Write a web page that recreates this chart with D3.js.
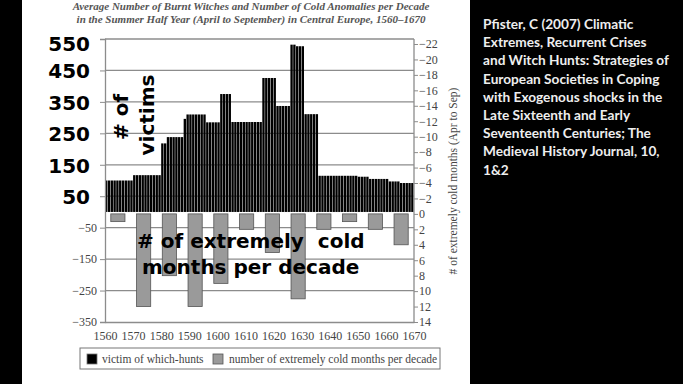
<!DOCTYPE html>
<html>
<head>
<meta charset="utf-8">
<script src="https://cdn.jsdelivr.net/npm/d3@7"></script>
<style>
  html, body { margin: 0; padding: 0; background: #000; }
  svg { display: block; }
</style>
</head>
<body>
<svg id="chart" width="683" height="384"></svg>
<script>
// Victims of witch hunts, one value per year from 1560
const firstYear = 1560;
const victims = [
  100, 100, 100, 100, 100, 100, 100, 100, 100, 100,   // 1560s
  117, 117, 117, 117, 117, 117, 117, 117, 117, 117,   // 1570s
  218, 218, 238, 238, 238, 238, 238, 238, 296, 310,   // 1580s
  310, 310, 310, 310, 310, 310, 285, 285, 285, 285,   // 1590s
  285, 375, 375, 375, 375, 286, 286, 286, 286, 286,   // 1600s
  286, 286, 286, 286, 286, 286, 426, 426, 426, 426,   // 1610s
  426, 337, 337, 337, 337, 337, 532, 532, 527, 527,   // 1620s
  527, 311, 311, 311, 311, 311, 115, 115, 115, 115,   // 1630s
  115, 115, 115, 115, 115, 115, 115, 115, 115, 115,   // 1640s
  112, 112, 112, 112, 105, 105, 105, 105, 105, 105,   // 1650s
  105, 97, 97, 97, 97, 92, 92, 92, 92, 92             // 1660s
];

// Extremely cold months per decade
const decades = ["1560", "1570", "1580", "1590", "1600", "1610", "1620", "1630", "1640", "1650", "1660", "1670"];
const coldMonths = [1, 12, 8, 12, 9, 2, 5, 11, 2, 1, 2, 4];

// Tick labels
const bigTicks = [550, 450, 350, 250, 150, 50];
const smallTicks = [-50, -150, -250, -350];
const yearTicks = [1560, 1570, 1580, 1590, 1600, 1610, 1620, 1630, 1640, 1650, 1660, 1670];
const coldTicks = [-22, -20, -18, -16, -14, -12, -10, -8, -6, -4, -2, 0, 2, 4, 6, 8, 10, 12, 14];

const titleLines = [
  "Average Number of Burnt Witches and Number of Cold Anomalies per Decade",
  "in the Summer Half Year (April to September) in Central Europe, 1560\u20131670"
];
const noteLines = [
  "Pfister, C (2007)  Climatic",
  "Extremes, Recurrent Crises",
  "and Witch Hunts: Strategies of",
  "European Societies in Coping",
  "with Exogenous shocks in the",
  "Late Sixteenth and Early",
  "Seventeenth Centuries; The",
  "Medieval History Journal, 10,",
  "1&2"
];

const svg = d3.select('#chart');
const serif = '"Liberation Serif", "Times New Roman", serif';
const heavy = '"DejaVu Sans", sans-serif';
const minus = d => d < 0 ? '\u2212' + Math.abs(d) : String(d);

// white slide panel
svg.append('rect').attr('x', 22).attr('y', 0).attr('width', 448).attr('height', 384).attr('fill', '#fff');

// scales
const x = d3.scaleLinear().domain([1560, 1670]).range([105, 414]);
const yL = d3.scaleLinear().domain([-350, 550]).range([322, 39]);
const yR = d3.scaleLinear().domain([-22, 14]).range([44, 322]);
const xBand = d3.scaleBand().domain(decades).range([105, 414]).padding(0);

// gridlines
svg.append('g')
  .selectAll('line')
  .data(bigTicks.concat(smallTicks.slice(0, 3)))
  .join('line')
  .attr('x1', 105).attr('x2', 414)
  .attr('y1', d => yL(d)).attr('y2', d => yL(d))
  .attr('stroke', '#8c8c8c').attr('stroke-width', 1.3);

// victims bars (one per year)
svg.append('g')
  .selectAll('rect')
  .data(victims)
  .join('rect')
  .attr('x', (d, i) => x(firstYear + i))
  .attr('width', (d, i) => x(firstYear + i + 1) - x(firstYear + i) - 0.45)
  .attr('y', d => yL(d))
  .attr('height', d => yL(0) - yL(d))
  .attr('fill', '#000');

// cold months bars
const barW = xBand.bandwidth() * 0.55;
svg.append('g')
  .selectAll('rect')
  .data(coldMonths)
  .join('rect')
  .attr('x', (d, i) => xBand(decades[i]) + (xBand.bandwidth() - barW) / 2)
  .attr('width', barW)
  .attr('y', yR(0))
  .attr('height', d => yR(d) - yR(0))
  .attr('fill', '#9a9a9a')
  .attr('stroke', '#555')
  .attr('stroke-width', 0.8);

// left axis
const leftAxis = svg.append('g').attr('transform', 'translate(105,0)')
  .call(d3.axisLeft(yL).tickValues(bigTicks.concat(smallTicks)).tickSize(5).tickFormat(''));
leftAxis.select('.domain').attr('stroke', '#8c8c8c').attr('stroke-width', 1.3);
leftAxis.selectAll('.tick line').attr('stroke', '#8c8c8c');

svg.append('g')
  .selectAll('text')
  .data(smallTicks)
  .join('text')
  .attr('x', 97).attr('y', d => yL(d) + 4)
  .attr('text-anchor', 'end')
  .attr('font-family', serif).attr('font-size', 12).attr('fill', '#444')
  .text(minus);

// big overlay labels
svg.append('g')
  .selectAll('text')
  .data(bigTicks)
  .join('text')
  .attr('x', 90).attr('y', (d, i) => yL(d) + (i === 0 ? 12 : 8))
  .attr('text-anchor', 'end')
  .attr('font-family', heavy).attr('font-weight', 'bold').attr('font-size', 20).attr('fill', '#000')
  .text(d => d);

// bottom axis
const bottomAxis = svg.append('g').attr('transform', `translate(0,${yL(-350)})`)
  .call(d3.axisBottom(x).tickValues(yearTicks).tickSize(0).tickFormat(d3.format('d')));
bottomAxis.select('.domain').attr('stroke', '#8c8c8c').attr('stroke-width', 1.3);
bottomAxis.selectAll('text')
  .attr('dy', 15)
  .attr('font-family', serif).attr('font-size', 12).attr('fill', '#444');

// right axis
const rightAxis = svg.append('g').attr('transform', 'translate(414,0)')
  .call(d3.axisRight(yR).tickValues(coldTicks).tickSize(4).tickFormat(minus));
rightAxis.select('.domain').attr('stroke', '#8c8c8c').attr('stroke-width', 1.3).attr('d', `M0,39V${yR(14)}`);
rightAxis.selectAll('.tick line').attr('stroke', '#8c8c8c');
rightAxis.selectAll('text')
  .attr('x', 5)
  .attr('font-family', serif).attr('font-size', 12).attr('fill', '#444');

svg.append('text')
  .attr('transform', 'translate(457,181) rotate(-90)')
  .attr('text-anchor', 'middle')
  .attr('font-family', serif).attr('font-size', 11.5).attr('fill', '#444')
  .text('# of extremely cold months (Apr to Sep)');

// title
svg.append('g')
  .selectAll('text')
  .data(titleLines)
  .join('text')
  .attr('x', 251).attr('y', (d, i) => 9.5 + i * 13.5)
  .attr('text-anchor', 'middle')
  .attr('font-family', serif).attr('font-style', 'italic').attr('font-weight', 'bold')
  .attr('font-size', 11).attr('fill', '#555')
  .text(d => d);

// overlay annotations
svg.append('text')
  .attr('transform', 'translate(128,117) rotate(-90)')
  .attr('text-anchor', 'middle')
  .attr('font-family', heavy).attr('font-weight', 'bold').attr('font-size', 20).attr('fill', '#000')
  .text('# of');
svg.append('text')
  .attr('transform', 'translate(154,115) rotate(-90)')
  .attr('text-anchor', 'middle')
  .attr('font-family', heavy).attr('font-weight', 'bold').attr('font-size', 20).attr('fill', '#000')
  .text('victims');

svg.append('g')
  .selectAll('text')
  .data(['# of extremely\u00a0\u00a0cold', 'months per decade'])
  .join('text')
  .attr('x', (d, i) => i === 0 ? 137 : 142)
  .attr('y', (d, i) => 248 + i * 26)
  .attr('font-family', heavy).attr('font-weight', 'bold').attr('font-size', 20).attr('fill', '#000')
  .text(d => d);

// legend
const legend = svg.append('g');
legend.append('rect').attr('x', 80).attr('y', 348).attr('width', 360).attr('height', 21)
  .attr('fill', '#fff').attr('stroke', '#777').attr('stroke-width', 1);
legend.append('rect').attr('x', 87).attr('y', 354).attr('width', 10).attr('height', 10)
  .attr('fill', '#000').attr('stroke', '#777').attr('stroke-width', 0.8);
legend.append('text').attr('x', 102).attr('y', 363)
  .attr('font-family', serif).attr('font-size', 11.5).attr('fill', '#444')
  .text('victim of which-hunts');
legend.append('rect').attr('x', 213).attr('y', 354).attr('width', 10).attr('height', 10)
  .attr('fill', '#9a9a9a').attr('stroke', '#555').attr('stroke-width', 0.8);
legend.append('text').attr('x', 229).attr('y', 363)
  .attr('font-family', serif).attr('font-size', 11.5).attr('fill', '#444')
  .text('number of extremely cold months per decade');

// citation on the black side
const note = svg.append('g').attr('transform', 'translate(483,0)');
const noteText = note.selectAll('text')
  .data(noteLines)
  .join('text')
  .attr('x', 0).attr('y', (d, i) => 29 + i * 18.2)
  .attr('font-family', 'Lato, "Open Sans", sans-serif').attr('font-weight', 'bold')
  .attr('font-size', 14).attr('fill', '#eee')
  .text(d => d);
const widest = d3.max(noteText.nodes(), n => n.getComputedTextLength());
if (widest > 186) note.attr('transform', `translate(483,0) scale(${186 / widest},1)`);
</script>
</body>
</html>
